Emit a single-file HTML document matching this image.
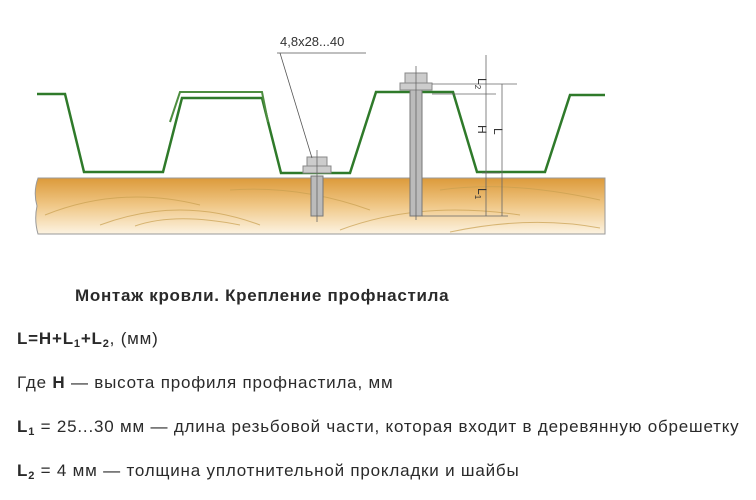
<!DOCTYPE html>
<html><head><meta charset="utf-8"><style>
body{margin:0;width:756px;height:500px;background:#fff;overflow:hidden;position:relative;font-family:"Liberation Sans",Arial,sans-serif;color:#2a2a2a}
.t{position:absolute;font-size:17px;letter-spacing:0.8px;white-space:nowrap}
b{font-weight:bold}
sub{font-size:11px;vertical-align:-3px}
</style></head><body>
<svg width="756" height="260" style="position:absolute;left:0;top:0">
<defs><linearGradient id="w" x1="0" y1="0" x2="0" y2="1"><stop offset="0" stop-color="#dc9a3a"/><stop offset="0.5" stop-color="#f0c888"/><stop offset="1" stop-color="#fcf3e2"/></linearGradient></defs>
<path d="M38,178 L605,178 L605,234 L38,234 Q34,220 37,206 Q33,192 38,178Z" fill="url(#w)" stroke="#999" stroke-width="1"/>
<g fill="none" stroke="#c9a050" stroke-width="1" opacity="0.7">
<path d="M45,215 Q120,185 200,205"/><path d="M100,225 Q180,195 260,225"/><path d="M135,226 Q175,212 240,225"/><path d="M230,190 Q300,185 370,210"/><path d="M340,230 Q420,200 520,215"/><path d="M440,190 Q510,180 600,200"/><path d="M450,232 Q530,215 600,228"/>
</g>
<path d="M37,94 L65,94 L84,172 L163,172 L182,98 L262,98 L281,173 L350,173 L376,92 L453,92 L477,172 L545,172 L570,95 L605,95" fill="none" stroke="#2f7a2a" stroke-width="2.5"/>
<path d="M170,122 L180,92 L262,92 L268,122" fill="none" stroke="#4e8e40" stroke-width="2"/>
<rect x="311" y="176" width="12" height="40" fill="#bbb" stroke="#777"/>
<rect x="303" y="166" width="28" height="7" fill="#ccc" stroke="#888"/>
<rect x="307" y="157" width="20" height="9" fill="#ccc" stroke="#888"/>
<line x1="317" y1="150" x2="317" y2="222" stroke="#666" stroke-width="0.8"/>
<rect x="410" y="90" width="12" height="126" fill="#bbb" stroke="#777"/>
<rect x="400" y="83" width="32" height="7" fill="#ccc" stroke="#888"/>
<rect x="405" y="73" width="22" height="10" fill="#ccc" stroke="#888"/>
<line x1="416" y1="66" x2="416" y2="220" stroke="#666" stroke-width="0.8"/>
<path d="M277,53 L366,53 M280,53 L312,158" stroke="#555" stroke-width="0.8" fill="none"/>
<text x="280" y="46" font-size="13" fill="#333" font-family="Liberation Sans">4,8x28...40</text>
<g stroke="#666" stroke-width="0.8" fill="none">
<line x1="486" y1="55" x2="486" y2="216"/><line x1="502" y1="84" x2="502" y2="216"/>
<line x1="432" y1="84" x2="517" y2="84"/><line x1="432" y1="94" x2="496" y2="94"/>
<line x1="422" y1="216" x2="508" y2="216"/><line x1="482" y1="173" x2="500" y2="173"/>
</g>
<g font-size="12" fill="#333" font-family="Liberation Sans">
<text transform="translate(478,78) rotate(90)">L<tspan font-size="8" dy="3">2</tspan></text>
<text transform="translate(478,125) rotate(90)">H</text>
<text transform="translate(494,128) rotate(90)">L</text>
<text transform="translate(478,188) rotate(90)">L<tspan font-size="8" dy="3">1</tspan></text>
</g>
</svg>
<div class="t" style="left:75px;top:286px;letter-spacing:0.7px"><b>Монтаж кровли. Крепление профнастила</b></div>
<div class="t" style="left:17px;top:329px"><b>L=H+L<sub>1</sub>+L<sub>2</sub></b>, (мм)</div>
<div class="t" style="left:17px;top:373px">Где <b>H</b> — высота профиля профнастила, мм</div>
<div class="t" style="left:17px;top:417px"><b>L<sub>1</sub></b> = 25...30 мм — длина резьбовой части, которая входит в деревянную обрешетку</div>
<div class="t" style="left:17px;top:461px"><b>L<sub>2</sub></b> = 4 мм — толщина уплотнительной прокладки и шайбы</div>
</body></html>
